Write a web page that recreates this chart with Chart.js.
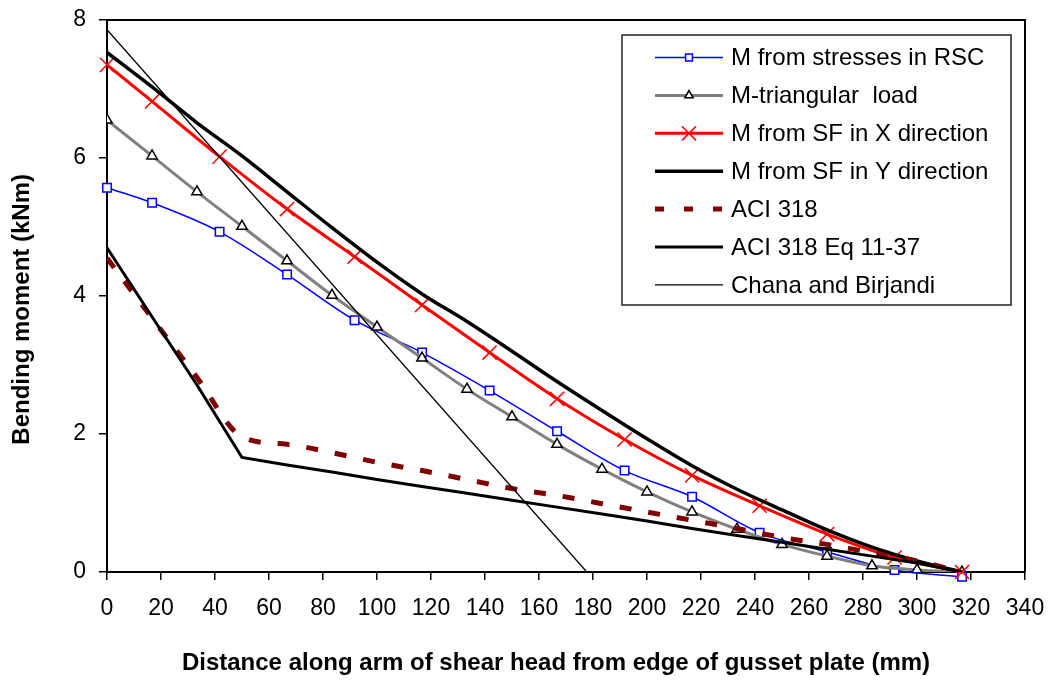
<!DOCTYPE html>
<html lang="en">
<head>
    <meta charset="UTF-8">
    <title>Bending moment along shear head arm</title>
    <script src="https://cdn.jsdelivr.net/npm/chart.js"></script>
    <style>
        body { margin: 0; background: #fff; }
    </style>
</head>
<body>
    <canvas id="momentChart" width="1051" height="680"></canvas>

    <script>
        // Distance along the arm (mm) and bending moment (kNm) for each curve
        const rscX = [0, 16.7, 41.7, 66.7, 91.7, 116.7, 141.7, 166.7, 191.7, 216.7, 241.7, 266.7, 291.7, 316.7];
        const rscM = [5.57, 5.35, 4.93, 4.31, 3.65, 3.18, 2.63, 2.04, 1.47, 1.09, 0.57, 0.29, 0.03, -0.07];

        const triX = [0, 16.67, 33.33, 50, 66.67, 83.33, 100, 116.67, 133.33, 150, 166.67, 183.33, 200, 216.67, 233.33, 250, 266.67, 283.33, 300, 316.67];
        const triM = [6.55, 6.03, 5.51, 5.01, 4.51, 4.01, 3.55, 3.10, 2.65, 2.25, 1.85, 1.49, 1.16, 0.87, 0.62, 0.40, 0.23, 0.09, 0.03, 0.0];

        const sfxX = [0, 16.7, 41.7, 66.7, 91.7, 116.7, 141.7, 166.7, 191.7, 216.7, 241.7, 266.7, 291.7, 316.7];
        const sfxM = [7.35, 6.82, 6.02, 5.26, 4.57, 3.87, 3.18, 2.51, 1.92, 1.40, 0.96, 0.55, 0.21, 0.0];

        const sfyX = triX;
        const sfyM = [7.53, 7.03, 6.51, 6.03, 5.51, 4.99, 4.49, 4.03, 3.63, 3.20, 2.76, 2.34, 1.93, 1.54, 1.20, 0.90, 0.61, 0.36, 0.16, 0.0];

        const aciX = triX;
        const aciM = [4.55, 3.68, 2.82, 1.96, 1.85, 1.73, 1.59, 1.47, 1.34, 1.21, 1.11, 0.99, 0.87, 0.75, 0.63, 0.50, 0.40, 0.28, 0.16, 0.0];

        const eqX = triX;
        const eqM = [4.70, 3.70, 2.71, 1.66, 1.55, 1.45, 1.34, 1.24, 1.14, 1.04, 0.94, 0.84, 0.74, 0.63, 0.53, 0.43, 0.33, 0.23, 0.13, 0.0];

        const chanaX = [0, 177.7];
        const chanaM = [7.86, 0];

        const seriesLabels = [
            'M from stresses in RSC',
            'M-triangular  load',
            'M from SF in X direction',
            'M from SF in Y direction',
            'ACI 318',
            'ACI 318 Eq 11-37',
            'Chana and Birjandi'
        ];

        const FONT = 'Liberation Sans, Arial, sans-serif';

        function toPoints(xs, ys) {
            return xs.map((x, i) => ({ x: x, y: ys[i] }));
        }

        const datasets = [
            {
                data: toPoints(rscX, rscM),
                borderColor: '#0000ff', borderWidth: 1.5,
                pointStyle: 'rect', pointRadius: 6, pointBorderWidth: 1.5,
                pointBorderColor: '#0000ff', pointBackgroundColor: '#ffffff',
                cubicInterpolationMode: 'monotone', clip: 10
            },
            {
                data: toPoints(triX, triM),
                borderColor: '#808080', borderWidth: 3,
                pointStyle: 'triangle', pointRadius: 6, pointBorderWidth: 1.5,
                pointBorderColor: '#000000', pointBackgroundColor: '#ffffff',
                cubicInterpolationMode: 'monotone'
            },
            {
                data: toPoints(sfxX, sfxM),
                borderColor: '#ff0000', borderWidth: 3,
                pointStyle: 'crossRot', pointRadius: 10, pointBorderWidth: 1.5,
                pointBorderColor: '#ff0000',
                cubicInterpolationMode: 'monotone', clip: 10
            },
            {
                data: toPoints(sfyX, sfyM),
                borderColor: '#000000', borderWidth: 3.5,
                pointRadius: 0,
                cubicInterpolationMode: 'monotone'
            },
            {
                data: toPoints(aciX, aciM),
                borderColor: '#800000', borderWidth: 5,
                borderDash: [12, 17], borderCapStyle: 'butt',
                pointRadius: 0,
                cubicInterpolationMode: 'monotone'
            },
            {
                data: toPoints(eqX, eqM),
                borderColor: '#000000', borderWidth: 3,
                pointRadius: 0, tension: 0
            },
            {
                data: toPoints(chanaX, chanaM),
                borderColor: '#000000', borderWidth: 1.3,
                pointRadius: 0, tension: 0
            }
        ];

        // later series sit on top of earlier ones
        datasets.forEach((ds, i) => {
            ds.label = seriesLabels[i];
            ds.showLine = true;
            ds.fill = false;
            ds.order = datasets.length - i;
        });

        function drawMarker(ctx, style, r, x, y) {
            ctx.beginPath();
            if (style === 'rect') {
                const s = Math.SQRT1_2 * r;
                ctx.rect(x - s, y - s, 2 * s, 2 * s);
                ctx.fill();
                ctx.stroke();
            } else if (style === 'triangle') {
                for (let k = 0; k < 3; k++) {
                    const a = k * 2 * Math.PI / 3;
                    const px = x + Math.sin(a) * r;
                    const py = y - Math.cos(a) * r;
                    if (k === 0) ctx.moveTo(px, py); else ctx.lineTo(px, py);
                }
                ctx.closePath();
                ctx.fill();
                ctx.stroke();
            } else if (style === 'crossRot') {
                const d = Math.SQRT1_2 * r;
                ctx.moveTo(x - d, y - d); ctx.lineTo(x + d, y + d);
                ctx.moveTo(x - d, y + d); ctx.lineTo(x + d, y - d);
                ctx.stroke();
            }
        }

        // box around the plot area plus the boxed legend at top right
        const frameAndLegend = {
            id: 'frameAndLegend',
            afterDraw(chart) {
                const ctx = chart.ctx;
                const a = chart.chartArea;
                ctx.save();
                ctx.strokeStyle = '#000';
                ctx.lineWidth = 2;
                ctx.beginPath();
                ctx.moveTo(a.left, a.top);
                ctx.lineTo(a.right, a.top);
                ctx.lineTo(a.right, a.bottom);
                ctx.stroke();

                const box = { left: 622, top: 35, right: 1011, bottom: 305 };
                ctx.fillStyle = '#fff';
                ctx.fillRect(box.left, box.top, box.right - box.left, box.bottom - box.top);
                ctx.lineWidth = 1.5;
                ctx.strokeStyle = '#222';
                ctx.strokeRect(box.left, box.top, box.right - box.left, box.bottom - box.top);

                chart.data.datasets.forEach((ds, i) => {
                    const y = 57.5 + i * 37.9;
                    ctx.save();
                    ctx.strokeStyle = ds.borderColor;
                    ctx.lineWidth = ds.borderWidth;
                    ctx.setLineDash(ds.borderDash ? [9, 20] : []);
                    ctx.beginPath();
                    ctx.moveTo(655, y);
                    ctx.lineTo(723, y);
                    ctx.stroke();
                    ctx.setLineDash([]);
                    if (ds.pointRadius > 0) {
                        ctx.strokeStyle = ds.pointBorderColor;
                        ctx.fillStyle = ds.pointBackgroundColor || '#fff';
                        ctx.lineWidth = ds.pointBorderWidth;
                        const r = ds.pointStyle === 'crossRot' ? ds.pointRadius : ds.pointRadius * 0.8;
                        drawMarker(ctx, ds.pointStyle, r, 689, y);
                    }
                    ctx.restore();
                    ctx.fillStyle = '#000';
                    ctx.font = '24px ' + FONT;
                    ctx.textBaseline = 'middle';
                    ctx.textAlign = 'left';
                    ctx.fillText(ds.label, 731, y + 1);
                });
                ctx.restore();
            }
        };

        const ctx = document.getElementById('momentChart').getContext('2d');
        new Chart(ctx, {
            type: 'scatter',
            data: { datasets: datasets },
            options: {
                responsive: false,
                animation: false,
                layout: { padding: { top: 20, right: 26, left: 0, bottom: 0 } },
                plugins: {
                    legend: { display: false },
                    tooltip: { enabled: false }
                },
                scales: {
                    x: {
                        type: 'linear',
                        min: 0, max: 340,
                        afterFit(scale) {
                            scale.height = 108;
                            scale.paddingLeft = 0;
                            scale.paddingRight = 0;
                        },
                        ticks: {
                            stepSize: 20,
                            color: '#000',
                            padding: 15,
                            font: { family: FONT, size: 23 }
                        },
                        grid: {
                            drawOnChartArea: false,
                            drawTicks: true,
                            tickLength: 8,
                            color: '#000',
                            lineWidth: 1.5
                        },
                        border: { color: '#000', width: 2 },
                        title: {
                            display: true,
                            // trailing spaces nudge the title a little left of the axis centre
                            text: 'Distance along arm of shear head from edge of gusset plate (mm)   ',
                            color: '#000',
                            font: { family: FONT, size: 24, weight: 'bold' },
                            padding: { top: 0, bottom: 2 }
                        }
                    },
                    y: {
                        min: 0, max: 8,
                        afterFit(scale) {
                            scale.width = 107;
                            scale.paddingTop = 0;
                            scale.paddingBottom = 0;
                        },
                        ticks: {
                            stepSize: 2,
                            color: '#000',
                            padding: 13,
                            font: { family: FONT, size: 23 }
                        },
                        grid: {
                            drawOnChartArea: false,
                            drawTicks: true,
                            tickLength: 8,
                            color: '#000',
                            lineWidth: 1.5
                        },
                        border: { color: '#000', width: 2 },
                        title: {
                            display: true,
                            // trailing spaces push the rotated title slightly lower
                            text: 'Bending moment (kNm)    ',
                            color: '#000',
                            font: { family: FONT, size: 24, weight: 'bold' },
                            padding: { top: 8, bottom: 0 }
                        }
                    }
                }
            },
            plugins: [frameAndLegend]
        });
    </script>
</body>
</html>
